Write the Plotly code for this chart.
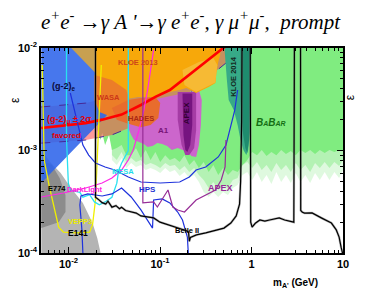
import numpy as np
import plotly.graph_objects as go

# ---------------- data (mass in GeV, epsilon) ----------------
babar_m = [0.0206, 0.0224, 0.0233, 0.0251, 0.0277,
           0.0298, 0.0337, 0.0380, 0.0428, 0.0484, 0.0546, 0.0618, 0.0697, 0.0788, 0.0890,
           0.1005, 0.114, 0.128, 0.145, 0.164, 0.185, 0.209, 0.236, 0.266, 0.300,
           0.340, 0.383, 0.433, 0.489, 0.553, 0.624, 0.705, 0.797, 0.899, 1.015,
           1.147, 1.294, 1.46, 1.65, 1.87, 2.11, 2.38, 2.69, 3.04, 3.43,
           3.88, 4.375, 4.95, 5.58, 6.31, 7.11, 8.05, 9.07, 10.0]
babar_eps = [1.585e-3, 1.265e-3, 1.483e-3, 1.13e-3, 1.42e-3,
             1.01e-3, 1.06e-3, 1.13e-3, 9.0e-4, 9.0e-4, 1.06e-3, 8.45e-4, 1.01e-3, 8.07e-4, 9.66e-4,
             7.72e-4, 9.0e-4, 8.07e-4, 8.45e-4, 7.72e-4, 9.0e-4, 7.21e-4, 8.07e-4, 6.75e-4, 7.72e-4,
             6.17e-4, 7.21e-4, 5.76e-4, 6.75e-4, 5.76e-4, 6.45e-4, 6.17e-4, 7.21e-4, 8.07e-4, 9.66e-4,
             9.0e-4, 1.01e-3, 8.83e-4, 9.66e-4, 9.0e-4, 1.01e-3, 9.24e-4, 9.88e-4, 9.0e-4, 1.01e-3,
             9.45e-4, 1.01e-3, 9.24e-4, 1.01e-3, 9.45e-4, 1.01e-3, 9.66e-4, 1.01e-3, 9.88e-4]
babar_fade1_eps = [9.03e-4, 8.07e-4, 9.66e-4, 7.72e-4, 8.45e-4, 7.72e-4, 8.07e-4, 7.21e-4, 7.55e-4, 7.21e-4,
                   6.75e-4, 7.55e-4, 7.06e-4, 7.21e-4, 6.45e-4, 7.06e-4, 6.17e-4, 6.75e-4, 5.76e-4,
                   5.15e-4, 4.31e-4, 4.93e-4, 4.12e-4, 4.60e-4, 4.31e-4, 5.15e-4, 5.39e-4, 7.21e-4, 7.72e-4,
                   6.75e-4, 7.72e-4, 6.45e-4, 7.21e-4, 6.17e-4, 7.55e-4, 6.45e-4, 7.21e-4, 6.17e-4, 7.55e-4,
                   6.45e-4, 7.21e-4, 6.17e-4, 7.55e-4, 6.75e-4, 7.72e-4, 6.75e-4, 7.72e-4, 7.06e-4, 8.07e-4]
babar_fade2_eps = [8.07e-4, 7.21e-4, 8.45e-4, 6.75e-4, 7.55e-4, 6.90e-4, 7.21e-4, 6.45e-4, 6.75e-4, 6.45e-4,
                   6.03e-4, 6.75e-4, 6.17e-4, 6.45e-4, 5.64e-4, 6.17e-4, 5.39e-4, 5.76e-4, 4.93e-4,
                   3.94e-4, 3.52e-4, 3.94e-4, 3.52e-4, 3.94e-4, 3.68e-4, 4.31e-4, 4.60e-4, 5.76e-4, 6.17e-4,
                   5.15e-4, 6.17e-4, 4.93e-4, 5.76e-4, 4.71e-4, 6.17e-4, 4.93e-4, 5.76e-4, 4.82e-4, 6.03e-4,
                   4.93e-4, 5.76e-4, 4.82e-4, 6.03e-4, 5.15e-4, 6.17e-4, 5.15e-4, 6.17e-4, 5.39e-4, 6.45e-4]

e141_m = [0.00504, 0.00643, 0.0082, 0.01045, 0.01435, 0.0183, 0.0206, 0.0224, 0.00504]
e141_eps = [1.01e-3, 7.55e-4, 6.03e-4, 4.41e-4, 3.08e-4, 1.96e-4, 1.40e-4, 1.0e-4, 1.0e-4]
e774_m = [0.00504, 0.00658, 0.0080, 0.00926, 0.00926, 0.0078, 0.00504]
e774_eps = [8.07e-4, 7.21e-4, 5.39e-4, 3.68e-4, 2.51e-4, 2.0e-4, 1.75e-4]

g2e_m = [0.00504, 0.0197, 0.0197, 0.0233, 0.0313, 0.01435, 0.00504]
g2e_eps = [1.07e-2, 1.07e-2, 5.45e-3, 3.89e-3, 2.60e-3, 1.265e-3, 4.82e-4]

g2mu_m = [0.00504, 0.0088, 0.0154, 0.0233, 0.038, 0.0618, 0.089, 0.128, 0.209, 0.340, 0.466, 0.526]
g2mu_eps = [1.66e-3, 1.74e-3, 1.85e-3, 2.0e-3, 2.24e-3, 2.78e-3, 3.33e-3, 3.89e-3, 5.45e-3, 7.64e-3, 9.56e-3, 1.05e-2]
band_m = [0.00504, 0.0154, 0.0298, 0.0618, 0.128, 0.209, 0.340, 0.526]
band_hi = [2.66e-3, 2.9e-3, 3.33e-3, 4.07e-3, 5.83e-3, 8.17e-3, 1.14e-2, 1.5e-2]
band_lo = [1.18e-3, 1.265e-3, 1.42e-3, 1.85e-3, 2.6e-3, 3.64e-3, 5.2e-3, 7.14e-3]

tan_m = [0.00995, 0.0197, 0.0197]
tan_eps = [1.07e-2, 1.07e-2, 5.70e-3]
kloe13_m = [0.0197, 0.4547, 0.4547, 0.433, 0.4125, 0.403, 0.340, 0.286, 0.248, 0.194, 0.164, 0.128,
            0.0851, 0.0573, 0.038, 0.0298, 0.0233, 0.0197]
kloe13_eps = [1.07e-2, 1.07e-2, 8.55e-3, 7.30e-3, 5.70e-3, 4.55e-3, 4.17e-3, 3.89e-3, 3.64e-3, 4.07e-3,
              3.89e-3, 3.72e-3, 3.33e-3, 3.33e-3, 3.11e-3, 2.66e-3, 3.11e-3, 5.45e-3]
kloe13_light_m = [0.176, 0.266, 0.383, 0.423, 0.403, 0.340, 0.286, 0.248, 0.209, 0.185]
kloe13_light_eps = [6.10e-3, 7.30e-3, 7.99e-3, 6.83e-3, 4.6e-3, 4.26e-3, 3.98e-3, 3.72e-3, 4.07e-3, 4.36e-3]
wasa_m = [0.0192, 0.0298, 0.0428, 0.0484, 0.0428, 0.0298, 0.0217, 0.0192]
wasa_eps = [5.45e-3, 4.87e-3, 3.89e-3, 2.78e-3, 2.32e-3, 2.12e-3, 2.38e-3, 3.11e-3]
hades_m = [0.0298, 0.045, 0.0618, 0.089, 0.1005, 0.0958, 0.0788, 0.0618, 0.045, 0.0337]
hades_eps = [2.60e-3, 3.11e-3, 3.25e-3, 3.33e-3, 2.90e-3, 2.08e-3, 1.77e-3, 1.69e-3, 1.82e-3, 1.99e-3]
a1_m = [0.045, 0.266, 0.286, 0.2795, 0.266, 0.248, 0.219, 0.1988, 0.176, 0.156, 0.1346, 0.1195,
        0.1056, 0.0935, 0.0828, 0.0731, 0.0665, 0.0618, 0.0561, 0.052, 0.0484, 0.045]
a1_eps = [2.78e-3, 3.89e-3, 3.11e-3, 1.77e-3, 1.13e-3, 8.65e-4, 8.83e-4, 1.01e-3, 1.01e-3, 1.06e-3,
          1.01e-3, 1.107e-3, 1.157e-3, 1.183e-3, 1.107e-3, 1.082e-3, 1.157e-3, 1.183e-3, 1.238e-3,
          1.265e-3, 1.42e-3, 1.66e-3]
apex_wide_m = [0.156, 0.248, 0.248, 0.236, 0.209, 0.189, 0.172, 0.156]
apex_wide_eps = [3.72e-3, 3.72e-3, 1.58e-3, 1.06e-3, 9.03e-4, 9.03e-4, 1.13e-3, 1.99e-3]
apex_core_m = [0.176, 0.225, 0.225, 0.2138, 0.1988, 0.189, 0.1803]
apex_core_eps = [3.6e-3, 3.6e-3, 1.77e-3, 1.13e-3, 9.66e-4, 1.01e-3, 1.42e-3]
kloe14_m = [0.503, 0.514, 0.538, 0.563, 0.640, 0.705, 0.759, 0.815, 0.877, 0.920, 0.967, 0.990, 0.990]
kloe14_eps = [1.07e-2, 7.64e-3, 4.87e-3, 3.11e-3, 2.48e-3, 1.77e-3, 1.265e-3, 1.01e-3, 9.03e-4,
              1.01e-3, 1.58e-3, 3.11e-3, 1.07e-2]
kloe14_dark_m = [0.759, 0.759, 0.797, 0.857, 0.899, 0.94, 0.967, 0.967]
kloe14_dark_eps = [1.07e-2, 3.11e-3, 1.58e-3, 1.06e-3, 9.45e-4, 1.265e-3, 3.11e-3, 1.07e-2]

mesa_m = [0.0095, 0.0095, 0.00995, 0.01045, 0.0133, 0.01435, 0.0170, 0.0192, 0.0217, 0.0251,
          0.0298, 0.0337, 0.0353, 0.038, 0.045, 0.045]
mesa_eps = [1.1e-2, 1.3e-3, 4.8e-4, 4.1e-4, 3.9e-4, 3.5e-4, 3.7e-4, 3.15e-4, 2.95e-4, 3.15e-4,
            3.5e-4, 4.8e-4, 6.4e-4, 7.5e-4, 1.0e-3, 1.1e-2]
vepp3_m = [0.00516, 0.00542, 0.00612, 0.00691, 0.0078, 0.0088, 0.0121, 0.0170, 0.0183, 0.0197,
           0.0206, 0.0217, 0.0228]
vepp3_eps = [6.83e-3, 8.07e-4, 4.6e-4, 2.81e-4, 1.79e-4, 1.60e-4, 1.57e-4, 1.60e-4, 1.88e-4, 3.29e-4,
             8.07e-4, 2.48e-3, 6.83e-3]
darklight_m = [0.00504, 0.0088, 0.0154, 0.0233, 0.0298, 0.038, 0.045, 0.0509, 0.0589, 0.0665,
               0.0731, 0.0788, 0.0851]
darklight_eps = [3.52e-4, 3.85e-4, 4.31e-4, 4.82e-4, 5.39e-4, 6.45e-4, 8.07e-4, 1.01e-3, 1.58e-3,
                 2.48e-3, 3.89e-3, 5.83e-3, 9.56e-3]
hps1_m = [0.01045, 0.01125, 0.0121, 0.0133, 0.01435, 0.0166, 0.0197, 0.0251, 0.032, 0.045, 0.0618,
          0.1005, 0.164, 0.209, 0.248, 0.316, 0.433, 0.526, 0.594, 0.656, 0.705]
hps1_eps = [3.64e-3, 2.78e-3, 2.12e-3, 1.52e-3, 1.13e-3, 9.03e-4, 7.55e-4, 6.90e-4, 6.45e-4, 5.51e-4,
            4.93e-4, 4.82e-4, 4.93e-4, 5.51e-4, 6.45e-4, 6.90e-4, 8.65e-4, 1.13e-3, 1.77e-3, 2.48e-3, 3.89e-3]
hps2_m = [0.01435, 0.0140, 0.0133, 0.01366, 0.0162, 0.0233, 0.0298, 0.038, 0.0484, 0.0618, 0.0828,
          0.0851, 0.1056, 0.128, 0.156, 0.176, 0.199, 0.2037]
hps2_eps = [1.0e-4, 1.68e-4, 2.94e-4, 3.60e-4, 3.77e-4, 3.60e-4, 3.77e-4, 4.31e-4, 3.52e-4, 2.63e-4,
            1.75e-4, 3.29e-4, 3.37e-4, 3.08e-4, 2.51e-4, 2.10e-4, 1.43e-4, 1.0e-4]
apex_line_m = [0.0649, 0.0649, 0.0851, 0.0935, 0.1222, 0.138, 0.156, 0.185, 0.248, 0.340, 0.403,
               0.466, 0.514, 0.526]
apex_line_eps = [1.1e-2, 3.08e-4, 3.15e-4, 2.81e-4, 4.12e-4, 2.81e-4, 2.63e-4, 2.51e-4, 3.29e-4,
                 3.85e-4, 4.12e-4, 5.15e-4, 6.90e-4, 1.265e-3]
belle_m = [0.0197, 0.0197, 0.0215, 0.0233, 0.0255, 0.027, 0.0298, 0.033, 0.036, 0.038,
           0.042, 0.0484, 0.055, 0.0618, 0.070, 0.078, 0.0851, 0.10, 0.12, 0.16,
           0.194, 0.205, 0.209, 0.215, 0.25, 0.316, 0.433, 0.50, 0.594, 0.68,
           0.74, 0.76, 0.78, 0.79, 0.967, 0.968, 0.98, 1.015, 1.1, 1.234,
           1.4, 1.574, 1.75, 2.009, 2.3, 2.6, 2.9, 2.95, 3.43, 3.45,
           3.60, 3.8, 4.59, 5.86, 7.47, 8.44, 9.07, 9.53, 9.88]
belle_eps = [0.02, 3.5e-4, 3.3e-4, 3.1e-4, 3.0e-4, 3.2e-4, 2.8e-4, 2.9e-4, 2.7e-4, 2.8e-4,
             2.6e-4, 2.5e-4, 2.45e-4, 2.3e-4, 2.25e-4, 2.2e-4, 2.2e-4, 2.0e-4, 1.9e-4, 1.75e-4,
             1.65e-4, 1.6e-4, 1.3e-4, 1.42e-4, 1.5e-4, 1.57e-4, 1.68e-4, 1.75e-4, 1.96e-4, 2.3e-4,
             3.0e-4, 5e-4, 2e-3, 0.02, 0.02, 3e-4, 2e-4, 1.79e-4, 1.95e-4, 2.1e-4,
             2.05e-4, 2.1e-4, 2.15e-4, 2.2e-4, 2.1e-4, 2.05e-4, 2.0e-4, 0.02, 0.02, 2.6e-4,
             2.5e-4, 2.45e-4, 2.46e-4, 2.19e-4, 1.96e-4, 1.68e-4, 1.43e-4, 1.14e-4, 1.0e-4]

x_ticks = [0.01, 0.1, 1, 10]
x_ticktext = ["10<sup>-2</sup>", "10<sup>-1</sup>", "1", "10"]
y_ticks = [1e-4, 1e-3, 1e-2]
y_ticktext = ["10<sup>-4</sup>", "10<sup>-3</sup>", "10<sup>-2</sup>"]
x_minor = [0.006, 0.007, 0.008, 0.009, 0.02, 0.03, 0.04, 0.05, 0.06, 0.07, 0.08, 0.09,
           0.2, 0.3, 0.4, 0.5, 0.6, 0.7, 0.8, 0.9, 2, 3, 4, 5, 6, 7, 8, 9]
y_minor = [2e-4, 3e-4, 4e-4, 5e-4, 6e-4, 7e-4, 8e-4, 9e-4, 2e-3, 3e-3, 4e-3, 5e-3, 6e-3, 7e-3, 8e-3, 9e-3]

TOP = 0.012
fig = go.Figure()


def poly(xs, ys, color):
    fig.add_trace(go.Scatter(x=xs, y=ys, fill="toself", fillcolor=color, mode="lines",
                             line=dict(width=0, color=color), hoverinfo="skip"))


def line(xs, ys, color, width=1.2, dash="solid"):
    fig.add_trace(go.Scatter(x=xs, y=ys, mode="lines", line=dict(color=color, width=width, dash=dash),
                             hoverinfo="skip"))


# BaBar (fading lower edge)
fm = babar_m[5:]
poly(fm + [fm[-1], fm[0]], babar_fade2_eps + [TOP, TOP], "rgba(128,232,128,0.25)")
poly(fm + [fm[-1], fm[0]], babar_fade1_eps + [TOP, TOP], "rgba(128,232,128,0.45)")
poly(babar_m + [babar_m[-1], babar_m[0]], babar_eps + [TOP, TOP], "rgb(128,236,128)")
# E141 / E774
poly(e141_m, e141_eps, "rgb(180,180,180)")
poly(e774_m, e774_eps, "rgb(140,140,140)")
# (g-2)_mu band
poly(band_m + band_m[::-1], band_hi + band_lo[::-1], "rgba(255,70,70,0.55)")
# (g-2)_e
poly(g2e_m, g2e_eps, "rgba(45,100,235,0.88)")
line(band_m, band_hi, "rgb(70,40,150)", 1, "dash")
line(band_m, band_lo, "rgb(70,40,150)", 1, "dash")
# A1 / APEX, then the KLOE 2013 family on top
poly(a1_m, a1_eps, "rgb(204,102,204)")
poly(apex_wide_m, apex_wide_eps, "rgb(165,60,165)")
poly(apex_core_m, apex_core_eps, "rgb(118,20,128)")
poly(tan_m, tan_eps, "rgb(200,160,80)")
poly(kloe13_m, kloe13_eps, "rgb(247,168,10)")
poly(kloe13_light_m, kloe13_light_eps, "rgb(246,186,52)")
poly(wasa_m, wasa_eps, "rgb(236,125,40)")
poly(hades_m, hades_eps, "rgb(232,108,45)")
poly(kloe14_m, kloe14_eps, "rgb(55,170,135)")
poly(kloe14_dark_m, kloe14_dark_eps, "rgb(30,140,110)")

# lines
line(g2mu_m, g2mu_eps, "rgb(255,0,0)", 2.6)
line(vepp3_m, vepp3_eps, "rgb(240,240,0)", 1.3)
line(mesa_m, mesa_eps, "rgb(40,225,240)", 1.3)
line(darklight_m, darklight_eps, "rgb(255,40,230)", 1.2)
line(hps1_m, hps1_eps, "rgb(30,50,220)", 1.2)
line(hps2_m, hps2_eps, "rgb(30,50,220)", 1.2)
line(apex_line_m, apex_line_eps, "rgb(150,45,150)", 1.2)
line(belle_m, belle_eps, "rgba(120,120,120,0.5)", 2.4)
line(belle_m, belle_eps, "black", 1.2)

# labels (positions in log10 units)
F = "Liberation Sans"
labels = [
    ("(g-2)<sub>e</sub>", -2.055, -2.380, "rgb(10,10,60)", 9, 0),
    ("(g-2)<sub>μ</sub> ± 2σ", -2.0, -2.702, "rgb(230,0,0)", 9, 0),
    ("favored", -2.023, -2.849, "rgb(230,0,0)", 8, 0),
    ("WASA", -1.558, -2.478, "rgb(205,55,25)", 7.5, 0),
    ("KLOE 2013", -1.241, -2.137, "rgb(205,70,25)", 7.5, 0),
    ("HADES", -1.209, -2.683, "rgb(170,40,20)", 7.5, 0),
    ("A1", -0.966, -2.800, "rgb(120,20,120)", 8, 0),
    ("APEX", -0.702, -2.634, "rgb(50,0,50)", 8, -90),
    ("KLOE 2014", -0.205, -2.283, "rgb(20,40,30)", 7.5, -90),
    ("<i>B<span style='font-size:7px'>A</span>B<span style='font-size:7px'>AR</span></i>", 0.218, -2.722,
     "rgb(20,110,20)", 10, 0),
    ("E774", -2.129, -3.366, "black", 7.5, 0),
    ("DarkLight", -1.822, -3.376, "rgb(255,30,220)", 7.5, 0),
    ("MESA", -1.410, -3.200, "rgb(30,220,235)", 7.5, 0),
    ("HPS", -1.135, -3.385, "rgb(30,50,210)", 8, 0),
    ("APEX", -0.342, -3.366, "rgb(150,40,150)", 9, 0),
    ("VEPP3", -1.875, -3.688, "rgb(235,235,0)", 7.5, 0),
    ("E141", -1.896, -3.805, "black", 8.5, 0),
    ("Belle II", -0.702, -3.776, "black", 7.5, 0),
]
for txt, lx, ly, col, sz, ang in labels:
    fig.add_annotation(x=lx, y=ly, xref="x", yref="y", text="<b>" + txt + "</b>", showarrow=False,
                       xanchor="center", yanchor="middle",
                       textangle=ang, font=dict(family=F, size=sz, color=col))

fig.add_annotation(x=0.497, y=1.132, xref="paper", yref="paper", showarrow=False,
                   xanchor="center", yanchor="middle",
                   text="<i>e<sup>+</sup>e<sup>-</sup> <b>→</b>γ A '<b>→</b>γ e<sup>+</sup>e<sup>-</sup>, γ μ<sup>+</sup>μ<sup>-</sup>,  prompt</i>",
                   font=dict(family="Liberation Serif", size=21, color="black"))
fig.add_annotation(x=0.843, y=-0.146, xref="paper", yref="paper", showarrow=False,
                   xanchor="center", yanchor="middle",
                   text="<b>m<sub>A'</sub> (GeV)</b>", font=dict(family=F, size=10, color="black"))
fig.add_annotation(x=-0.0865, y=0.746, xref="paper", yref="paper", showarrow=False, textangle=-90,
                   xanchor="center", yanchor="middle",
                   text="ε", font=dict(family=F, size=12, color="black"))
fig.add_annotation(x=1.024, y=0.761, xref="paper", yref="paper", showarrow=False, textangle=-90,
                   xanchor="center", yanchor="middle",
                   text="ε", font=dict(family=F, size=12, color="black"))

axis_common = dict(type="log", showgrid=False, zeroline=False, showline=True, linecolor="black",
                   linewidth=1.5, mirror="allticks", ticks="inside", ticklen=6, tickwidth=1.2,
                   tickcolor="black", tickfont=dict(family=F, size=11, color="black"))
fig.update_xaxes(range=[np.log10(0.005), 1], tickmode="array", tickvals=x_ticks,
                 ticktext=["<b>" + t + "</b>" for t in x_ticktext],
                 minor=dict(tickmode="array", tickvals=x_minor, ticks="inside", ticklen=3,
                            tickcolor="black", tickwidth=1), **axis_common)
fig.update_yaxes(range=[-4, -2], tickmode="array", tickvals=y_ticks,
                 ticktext=["<b>" + t + "</b>" for t in y_ticktext],
                 minor=dict(tickmode="array", tickvals=y_minor, ticks="inside", ticklen=3,
                            tickcolor="black", tickwidth=1), **axis_common)
# page body has an 8px default margin, so the figure is 16px smaller than the window
fig.update_layout(width=351, height=284, margin=dict(l=29, r=10, t=40, b=39),
                  paper_bgcolor="white", plot_bgcolor="white", showlegend=False)
fig.write_html("out.html")
